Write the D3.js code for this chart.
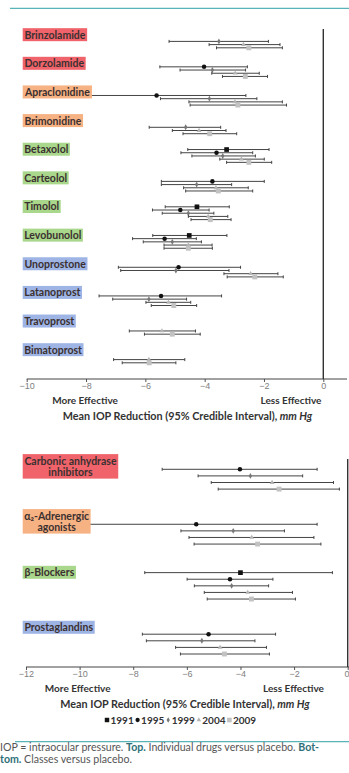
<!DOCTYPE html>
<html>
<head>
<meta charset="utf-8">
<script src="https://cdn.jsdelivr.net/npm/d3@7"></script>
<style>
  body { margin: 0; background: #fff; }
  svg { display: block; font-family: Lato, "Open Sans", sans-serif; }
</style>
</head>
<body>
<svg id="chart" width="349" height="773"></svg>
<script>
// years of the cumulative analysis, one row per year inside each group
var years = [1991, 1995, 1999, 2004, 2009];

// top panel: individual drugs
var drugs = ['Brinzolamide', 'Dorzolamide', 'Apraclonidine', 'Brimonidine', 'Betaxolol', 'Carteolol',
    'Timolol', 'Levobunolol', 'Unoprostone', 'Latanoprost', 'Travoprost', 'Bimatoprost'];
var drugClass = ['cai', 'cai', 'a2', 'a2', 'bb', 'bb', 'bb', 'bb', 'pg', 'pg', 'pg', 'pg'];
var drugMean = [
    [null, null, -3.52, -2.69, -2.51],
    [null, -4.02, -3.74, -2.97, -2.63],
    [null, -5.62, -3.84, -2.98, -2.88],
    [null, null, -4.64, -4.19, -3.83],
    [-3.26, -3.60, -3.39, -2.76, -2.51],
    [null, -3.74, -4.27, -3.62, -3.54],
    [-4.26, -4.82, -4.55, -3.88, -3.81],
    [-4.52, -5.35, -5.09, -4.55, -4.55],
    [null, -4.88, -4.97, -2.45, -2.31],
    [null, -5.47, -5.88, -5.22, -5.04],
    [null, null, null, -5.44, -5.09],
    [null, null, null, -5.88, -5.87]
];
var drugLow = [
    [null, null, -5.20, -3.85, -3.60],
    [null, -5.51, -4.83, -3.76, -3.40],
    [null, -9.00, -5.49, -4.53, -4.49],
    [null, null, -5.87, -5.09, -4.73],
    [-4.57, -4.80, -4.43, -3.49, -3.26],
    [null, -5.46, -5.46, -4.71, -4.64],
    [-5.33, -5.76, -5.43, -4.55, -4.46],
    [-5.75, -6.43, -6.07, -5.37, -5.37],
    [null, -6.91, -6.83, -3.35, -3.24],
    [null, -7.56, -7.10, -5.98, -5.80],
    [null, null, null, -6.54, -6.03],
    [null, null, null, -7.07, -6.78]
];
var drugHigh = [
    [null, null, -1.85, -1.46, -1.38],
    [null, -2.56, -2.62, -2.16, -1.88],
    [null, -2.61, -2.24, -1.38, -1.24],
    [null, null, -3.46, -3.28, -2.92],
    [-1.83, -2.38, -2.29, -1.99, -1.74],
    [null, -1.99, -3.09, -2.53, -2.38],
    [-3.17, -3.85, -3.69, -3.22, -3.11],
    [-3.25, -4.28, -4.11, -3.75, -3.74],
    [null, -2.79, -3.18, -1.53, -1.35],
    [null, -3.43, -4.61, -4.47, -4.27],
    [null, null, null, -4.31, -4.15],
    [null, null, null, -4.67, -4.97]
];

// bottom panel: drug classes
var classes = ['Carbonic anhydrase|inhibitors', 'α₂-Adrenergic|agonists', 'β-Blockers', 'Prostaglandins'];
var classKey = ['cai', 'a2', 'bb', 'pg'];
var classMean = [
    [null, -4.02, -3.63, -2.82, -2.56],
    [null, -5.65, -4.27, -3.58, -3.36],
    [-4.00, -4.39, -4.33, -3.73, -3.59],
    [null, -5.19, -5.44, -4.76, -4.60]
];
var classLow = [
    [null, -6.92, -5.58, -5.09, -4.83],
    [null, -10.5, -6.22, -5.92, -5.73],
    [-7.57, -5.99, -5.72, -5.35, -5.24],
    [null, -7.66, -7.51, -6.42, -6.24]
];
var classHigh = [
    [null, -1.14, -1.68, -0.53, -0.31],
    [null, -1.14, -2.36, -1.26, -1.00],
    [-0.57, -2.79, -2.95, -2.06, -1.95],
    [null, -2.69, -3.46, -3.03, -2.92]
];

var topTicks = [-10, -8, -6, -4, -2, 0];
var bottomTicks = [-12, -10, -8, -6, -4, -2, 0];

var classFill = d3.scaleOrdinal()
    .domain(['cai', 'a2', 'bb', 'pg'])
    .range(['#f0636a', '#f7b283', '#a9d78b', '#9db4e5']);

// marker look per year
var yearShape = d3.scaleOrdinal().domain(years)
    .range([d3.symbolSquare, d3.symbolCircle, d3.symbolDiamond, d3.symbolTriangle, d3.symbolSquare]);
var yearSize = d3.scaleOrdinal().domain(years).range([22, 16, 10, 10, 24]);
var yearFill = d3.scaleOrdinal().domain(years).range(['#111', '#111', '#777', '#b5b5b5', '#c2c2c2']);

var svg = d3.select('#chart');
var ink = '#444';

function rowsFor(names, mean, low, high) {
    var rows = [];
    names.forEach(function(n, i) {
        years.forEach(function(yr, j) {
            if (mean[i][j] === null) return;
            rows.push({ group: n, year: yr, mean: mean[i][j], low: low[i][j], high: high[i][j] });
        });
    });
    return rows;
}

function panel(opt) {
    var g = svg.append('g');
    var x = opt.x, y = opt.y, dy = opt.dy;

    // axis
    var axis = g.append('g')
        .attr('transform', 'translate(0,' + opt.axisY + ')')
        .call(d3.axisBottom(x).tickValues(opt.ticks).tickSize(3)
            .tickFormat(function(d) { return d === 0 ? '0' : '\u2212' + Math.abs(d); }));
    axis.select('.domain').remove();
    axis.selectAll('.tick line').attr('stroke', '#555');
    axis.selectAll('.tick text').attr('fill', '#808080').attr('font-size', 9).attr('dy', '0.45em');
    // keep the 0 label inside the page when the axis ends at the edge
    if (x(0) > 340) {
        axis.selectAll('.tick text').filter(function(d) { return d === 0; })
            .attr('text-anchor', 'end').attr('x', 1.2);
    }
    g.append('line')
        .attr('x1', x.range()[0]).attr('x2', opt.axisEnd)
        .attr('y1', opt.axisY).attr('y2', opt.axisY)
        .attr('stroke', '#444').attr('stroke-width', 1.2);

    // zero line
    g.append('line')
        .attr('x1', x(0)).attr('x2', x(0))
        .attr('y1', opt.zeroTop).attr('y2', opt.axisY)
        .attr('stroke', '#333').attr('stroke-width', 1.4);

    // bars
    var rows = g.selectAll('.row').data(opt.rows).enter().append('g').attr('class', 'row')
        .attr('transform', function(d) { return 'translate(0,' + (y(d.group) + dy(d.year)) + ')'; });
    rows.append('line')
        .attr('x1', function(d) { return x(d.low); })
        .attr('x2', function(d) { return x(d.high); })
        .attr('stroke', ink).attr('stroke-width', 1);
    rows.append('line')
        .attr('x1', function(d) { return x(d.low); }).attr('x2', function(d) { return x(d.low); })
        .attr('y1', -1.5).attr('y2', 1.5).attr('stroke', ink);
    rows.append('line')
        .attr('x1', function(d) { return x(d.high); }).attr('x2', function(d) { return x(d.high); })
        .attr('y1', -1.5).attr('y2', 1.5).attr('stroke', ink);
    rows.append('path')
        .attr('transform', function(d) { return 'translate(' + x(d.mean) + ',0)'; })
        .attr('d', function(d) { return d3.symbol().type(yearShape(d.year)).size(yearSize(d.year))(); })
        .attr('fill', function(d) { return yearFill(d.year); });

    // group labels drawn last, they hide bars that run under them
    var labels = g.selectAll('.lab').data(opt.groups).enter().append('g').attr('class', 'lab');
    labels.each(function(name, i) {
        var lg = d3.select(this);
        var lines = name.split('|');
        var cy = y(name) + (lines.length > 1 ? opt.twoLineShift : 0);
        var rect = lg.append('rect').attr('fill', classFill(opt.keys[i]));
        var t = lg.append('text')
            .attr('font-size', opt.labelSize).attr('font-weight', 700).attr('fill', '#3b3030')
            .attr('text-anchor', 'middle');
        lines.forEach(function(l, k) {
            t.append('tspan').attr('x', 0)
                .attr('y', cy + (k - (lines.length - 1) / 2) * opt.lineH)
                .attr('dy', '0.35em').text(l);
        });
        var b = t.node().getBBox();
        var w = b.width + 3;
        t.selectAll('tspan').attr('x', 22.7 + w / 2);
        rect.attr('x', 22.7).attr('y', b.y - 0.5).attr('width', w).attr('height', b.height + 1);
    });

    // axis captions
    g.append('text').attr('x', opt.moreX).attr('y', opt.axisY + 25)
        .attr('text-anchor', 'middle').attr('font-size', 10).attr('font-weight', 700).attr('fill', '#333')
        .text('More Effective');
    g.append('text').attr('x', opt.lessX).attr('y', opt.axisY + 25)
        .attr('text-anchor', 'middle').attr('font-size', 10).attr('font-weight', 700).attr('fill', '#333')
        .text('Less Effective');
    var cap = g.append('text').attr('x', opt.capX).attr('y', opt.axisY + 41)
        .attr('text-anchor', 'middle').attr('font-size', 10.8).attr('font-weight', 700).attr('fill', '#333')
        .text('Mean IOP Reduction (95% Credible Interval), ');
    cap.append('tspan').attr('font-style', 'italic').text('mm Hg');
}

// teal rule at top
svg.append('line').attr('x1', 10).attr('x2', 349).attr('y1', 8.3).attr('y2', 8.3)
    .attr('stroke', '#5ab3b8').attr('stroke-width', 1.3);

panel({
    groups: drugs, keys: drugClass,
    rows: rowsFor(drugs, drugMean, drugLow, drugHigh),
    x: d3.scaleLinear().domain([-10, 0]).range([26.7, 323.3]),
    y: d3.scalePoint().domain(drugs).range([35, 350]),
    dy: d3.scalePoint().domain(years).range([0, 12.8]),
    ticks: topTicks, axisY: 379, axisEnd: 347, zeroTop: 29,
    labelSize: 10.5, lineH: 11.5, twoLineShift: 0,
    moreX: 85, lessX: 291, capX: 187.5
});

panel({
    groups: classes, keys: classKey,
    rows: rowsFor(classes, classMean, classLow, classHigh),
    x: d3.scaleLinear().domain([-12, 0]).range([26, 347.7]),
    y: d3.scalePoint().domain(classes).range([462.7, 627.6]),
    dy: d3.scalePoint().domain(years).range([0, 26.4]),
    ticks: bottomTicks, axisY: 667, axisEnd: 349, zeroTop: 459,
    labelSize: 10.5, lineH: 11.5, twoLineShift: 4,
    moreX: 77.7, lessX: 293.5, capX: 185
});

// legend
var leg = svg.append('g').attr('transform', 'translate(107,720)');
var legItem = leg.selectAll('g').data(years).enter().append('g')
    .attr('transform', function(d, i) { return 'translate(' + (i * 30.6) + ',0)'; });
legItem.append('path')
    .attr('d', function(d) { return d3.symbol().type(yearShape(d)).size(yearSize(d) * 0.9)(); })
    .attr('fill', function(d) { return yearFill(d); });
legItem.append('text').attr('x', 3.5).attr('dy', '0.35em')
    .attr('font-size', 10).attr('font-weight', 700).attr('fill', '#333')
    .text(function(d) { return d; });

// footnote
svg.append('line').attr('x1', 15).attr('x2', 349).attr('y1', 741.7).attr('y2', 741.7)
    .attr('stroke', '#5ab3b8').attr('stroke-width', 1.3);
var foot1 = svg.append('text').attr('x', 0).attr('y', 751).attr('font-size', 10.6).attr('fill', '#555');
foot1.append('tspan').text('IOP = intraocular pressure. ');
foot1.append('tspan').attr('font-weight', 700).attr('fill', '#2f6f78').text('Top.');
foot1.append('tspan').text(' Individual drugs versus placebo. ');
foot1.append('tspan').attr('font-weight', 700).attr('fill', '#2f6f78').text('Bot-');
var foot2 = svg.append('text').attr('x', 0).attr('y', 763).attr('font-size', 10.6).attr('fill', '#555');
foot2.append('tspan').attr('font-weight', 700).attr('fill', '#2f6f78').text('tom.');
foot2.append('tspan').text(' Classes versus placebo.');
</script>
</body>
</html>
